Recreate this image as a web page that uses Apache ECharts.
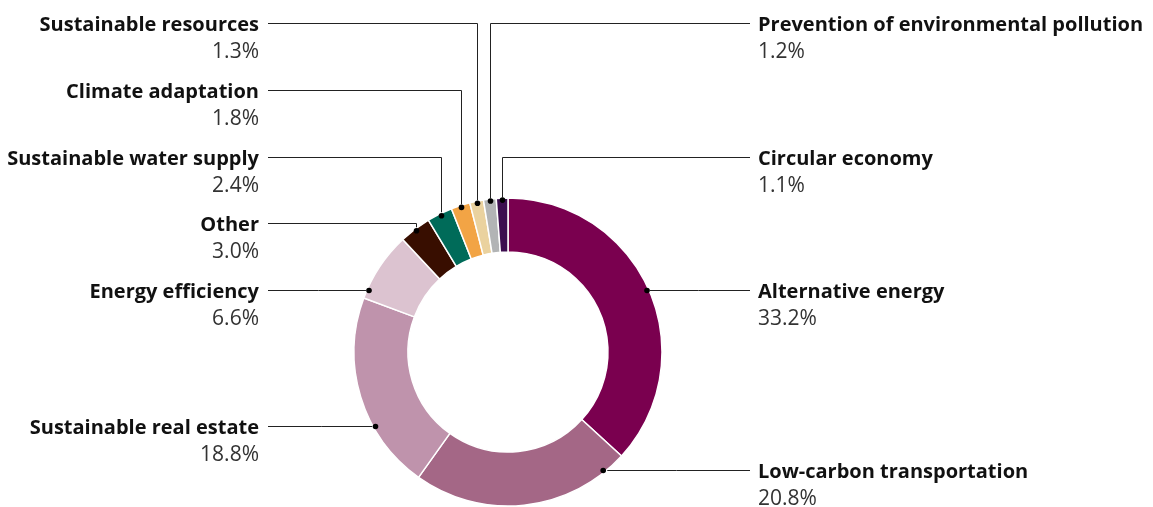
<!DOCTYPE html>
<html>
<head>
<meta charset="utf-8">
<script src="https://cdn.jsdelivr.net/npm/echarts@6/dist/echarts.min.js"></script>
<style>
html,body{margin:0;padding:0;background:#fff;}
#chart{width:1153px;height:507px;}
</style>
</head>
<body>
<div id="chart"></div>
<script>
// ---- data ----
const categories = [
  'Alternative energy',
  'Low-carbon transportation',
  'Sustainable real estate',
  'Energy efficiency',
  'Other',
  'Sustainable water supply',
  'Climate adaptation',
  'Sustainable resources',
  'Prevention of environmental pollution',
  'Circular economy'
];
const shares = [33.2, 20.8, 18.8, 6.6, 3.0, 2.4, 1.8, 1.3, 1.2, 1.1];
const colors = ['#7a004f', '#a46786', '#bf93ac', '#dcc3d0', '#380e00', '#006b59', '#f2a445', '#ead29f', '#b2b4b5', '#3c0e4f'];

// ---- layout (positions only) ----
const CX = 508, CY = 352, R_IN = 100, R_OUT = 154, R_DOT = 152;
const labelSide = ['right', 'right', 'left', 'left', 'left', 'left', 'left', 'left', 'right', 'right'];
const labelY    = [290, 470, 426, 290, 223, 157, 90, 23, 23, 157];
const labelMode = ['h', 'h', 'h', 'h', 'v', 'v', 'v', 'v', 'v', 'v'];
const LEFT_TEXT_X = 259, LEFT_LINE_X = 268, RIGHT_TEXT_X = 758, RIGHT_LINE_X = 750;
const NAME_LH = 27, TEXT_SHIFT = 2;

const total = shares.reduce((a, b) => a + b, 0);
function guidePoints(i) {
  const side = labelSide[i];
  const ly = labelY[i] + 0.5;
  const endX = side === 'left' ? LEFT_LINE_X : RIGHT_LINE_X;
  let p;
  if (labelMode[i] === 'v') {
    let before = 0;
    for (let k = 0; k < i; k++) before += shares[k];
    const a = (before + shares[i] / 2) / total * Math.PI * 2;
    p = [Math.round(CX + R_DOT * Math.sin(a)) + 0.5, CY - R_DOT * Math.cos(a)];
    return [p, [p[0], ly], [endX, ly]];
  } else {
    const dy = ly - CY;
    const dx = Math.sqrt(R_DOT * R_DOT - dy * dy);
    p = [side === 'left' ? CX - dx : CX + dx, ly];
    return [p, [(p[0] + endX) / 2, ly], [endX, ly]];
  }
}
const guides = categories.map((c, i) => guidePoints(i));

const chart = echarts.init(document.getElementById('chart'), null, {renderer: 'canvas'});
const FONT = '"Open Sans", Lato, sans-serif';

const option = {
  backgroundColor: '#ffffff',
  animation: false,
  series: [{
    type: 'pie',
    center: [CX, CY],
    radius: [R_IN, R_OUT],
    startAngle: 90,
    clockwise: true,
    avoidLabelOverlap: false,
    itemStyle: {borderColor: '#ffffff', borderWidth: 1.5},
    data: categories.map((name, i) => ({
      name: name,
      value: shares[i],
      itemStyle: {color: colors[i]},
      label: {
        align: labelSide[i] === 'left' ? 'right' : 'left',
        rich: {
          n: {fontFamily: FONT, fontWeight: 'bold', fontSize: 20, color: '#111111', lineHeight: NAME_LH, align: labelSide[i] === 'left' ? 'right' : 'left'},
          p: {fontFamily: FONT, fontSize: 21, color: '#333333', lineHeight: NAME_LH, align: labelSide[i] === 'left' ? 'right' : 'left'}
        }
      }
    })),
    label: {
      show: true,
      position: 'outside',
      formatter: function (params) {
        return '{n|' + params.name + '}\n{p|' + shares[params.dataIndex].toFixed(1) + '%}';
      }
    },
    labelLine: {show: true, lineStyle: {color: '#222222', width: 1}},
    labelLayout: function (params) {
      const i = params.dataIndex;
      const left = labelSide[i] === 'left';
      return {
        x: left ? LEFT_TEXT_X : RIGHT_TEXT_X,
        y: labelY[i] - NAME_LH / 2 + TEXT_SHIFT,
        align: left ? 'right' : 'left',
        verticalAlign: 'top',
        labelLinePoints: guides[i]
      };
    },
    emphasis: {disabled: true}
  }],
  graphic: guides.map(g => ({
    type: 'circle',
    shape: {cx: g[0][0], cy: g[0][1], r: 2.8},
    style: {fill: '#000000'},
    z: 100,
    silent: true
  }))
};
chart.setOption(option);
</script>
</body>
</html>
